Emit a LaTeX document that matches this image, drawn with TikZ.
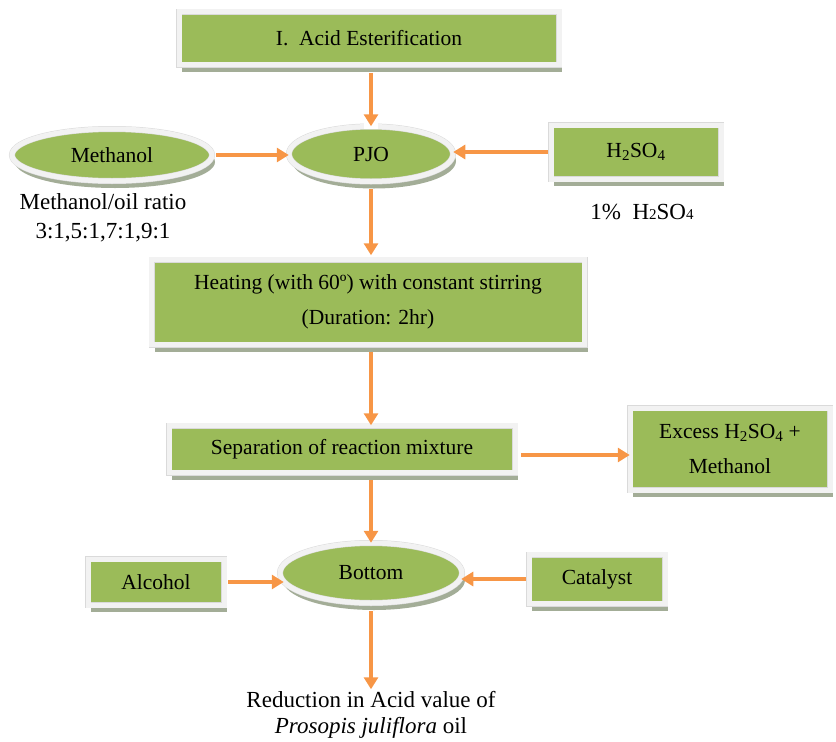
\documentclass[tikz,border=0pt]{standalone}
\usepackage{fontspec}
\setmainfont{Liberation Serif}
\usetikzlibrary{shapes.geometric,shadows,arrows.meta,calc}
\definecolor{boxgreen}{HTML}{9BBB59}
\definecolor{framegray}{HTML}{DADADA}
\definecolor{framewhite}{HTML}{F2F2F2}
\definecolor{shadowc}{HTML}{A3AD97}
\definecolor{arrorange}{HTML}{F79646}
\newcommand{\boxfont}{\fontsize{21.5}{35}\selectfont}
\newcommand{\labfont}{\fontsize{23}{29}\selectfont}
\newcommand{\sbs}[1]{{\fontsize{15}{15}\selectfont #1}}
\begin{document}
\begin{tikzpicture}[x=1pt,y=-1pt,
  base/.style={fill=boxgreen, draw=framegray, line width=0.5pt,
    double=framewhite, double distance=5pt,
    drop shadow={shadow xshift=3pt, shadow yshift=-7pt, fill=shadowc, opacity=1},
    font=\boxfont, align=center, inner sep=0pt},
  boxn/.style={base, rectangle},
  elln/.style={base, ellipse},
  lab/.style={font=\labfont, align=center, inner sep=0pt},
  arr/.style={draw=arrorange, line width=3.5pt, -{Triangle[length=12pt,width=14pt]}}]
\useasboundingbox (0,0) rectangle (836,742);

\node[boxn, minimum width=380, minimum height=53] (top) at (369,38) {I.\ \ Acid Esterification};
\node[elln, minimum width=164, minimum height=55] (pjo) at (371,154) {PJO};
\node[elln, minimum width=200, minimum height=52] (meth) at (112,155) {Methanol};
\node[boxn, minimum width=170, minimum height=54] (acid) at (636,152) {H\textsubscript{2}SO\textsubscript{4}};
\node[lab] (ratio) at (103,218) {Methanol/oil ratio\\3:1,5:1,7:1,9:1};
\node[lab] (pct) at (642,212) {1\%\ \ H\sbs{2}SO\sbs{4}};
\node[boxn, minimum width=433, minimum height=85] (heat) at (368,302) {Heating (with 60º) with constant stirring\\(Duration: 2hr)};
\node[boxn, minimum width=346, minimum height=47] (sep) at (342,449) {Separation of reaction mixture};
\node[boxn, minimum width=200, minimum height=82] (excess) at (730,449) {Excess H\textsubscript{2}SO\textsubscript{4} +\\Methanol};
\node[elln, minimum width=182, minimum height=60] (bottom) at (371,573) {Bottom};
\node[boxn, minimum width=136, minimum height=46] (alcohol) at (156,582) {Alcohol};
\node[boxn, minimum width=136, minimum height=49] (catalyst) at (597,579) {Catalyst};
\node[lab, font=\fontsize{23}{26}\selectfont] (result) at (371,715) {Reduction in Acid value of\\\textit{Prosopis juliflora} oil};

\fill[white] (364,121) rectangle (378,129);
\draw[arr, shorten <=8pt] (top.south -| pjo.north) -- (pjo.north);
\draw[arr, shorten <=4pt] (meth.east) -- (meth.east -| pjo.west);
\draw[arr, shorten <=3pt] (acid.west) -- (acid.west -| pjo.east);
\draw[arr, shorten <=7pt, shorten >=4pt] (pjo.south) -- (pjo.south |- heat.north);
\draw[arr, shorten <=7pt] (heat.south -| pjo.south) -- (sep.north -| pjo.south);
\draw[arr, shorten <=6pt] ([yshift=-6pt]sep.east) -- ([yshift=-6pt]sep.east -| excess.west);
\draw[arr, shorten <=7pt] (sep.south -| bottom.north) -- (bottom.north);
\draw[arr, shorten <=4pt] (alcohol.east) -- ($(alcohol.east -| bottom.west)+(4,0)$);
\draw[arr, shorten <=3pt] (catalyst.west) -- ($(catalyst.west -| bottom.east)+(-1,0)$);
\draw[arr, shorten <=8pt, shorten >=2pt] (bottom.south) -- (result.north);
\end{tikzpicture}
\end{document}
